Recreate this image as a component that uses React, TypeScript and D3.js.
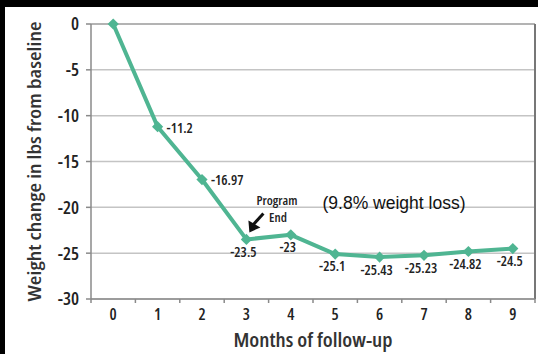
import React from "react";
import * as d3 from "d3";

const months = ["0", "1", "2", "3", "4", "5", "6", "7", "8", "9"];
const weightChange = [0, -11.2, -16.97, -23.5, -23, -25.1, -25.43, -25.23, -24.82, -24.5];
const valueLabels = ["", "-11.2", "-16.97", "-23.5", "-23", "-25.1", "-25.43", "-25.23", "-24.82", "-24.5"];
const labelPlacement = ["none", "right", "right", "below", "below", "below", "below", "below", "below", "below"];
const yTicks = [0, -5, -10, -15, -20, -25, -30];

const W = 538;
const H = 354;
const LEFT = 91;
const RIGHT = 535;
const TOP = 24;
const BOTTOM = 299;
const LINE = "#4fb592";
const FONT = "'Open Sans', 'DejaVu Sans Condensed', sans-serif";
const cond: React.CSSProperties = { fontStretch: "87.5%" };

export default function App() {
  const x = d3.scaleBand<string>().domain(months).range([LEFT, RIGHT]);
  const y = d3.scaleLinear().domain([-30, 0]).range([BOTTOM, TOP]);
  const cx = (i: number) => (x(months[i]) as number) + x.bandwidth() / 2;
  const line = d3
    .line<number>()
    .x((_, i) => cx(i))
    .y((d) => y(d));
  const diamond = d3.symbol().type(d3.symbolDiamond2).size(80)();
  const bandEdges = months.map((m) => x(m) as number).concat([RIGHT]);

  const p3x = cx(3);
  const p3y = y(weightChange[3]);

  return (
    <svg width={W} height={H} style={{ position: "absolute", left: 0, top: 0, background: "#fff" }}>
      <rect x={0} y={0} width={W} height={H} fill="#fff" />
      {yTicks.map((t) => (
        <line key={"g" + t} x1={LEFT} x2={RIGHT} y1={y(t)} y2={y(t)} stroke={t === 0 ? "#9a9a9a" : "#c4c4c4"} strokeWidth={1.5} />
      ))}
      <line x1={RIGHT} x2={RIGHT} y1={TOP} y2={BOTTOM} stroke="#777" strokeWidth={2} />
      <line x1={LEFT} x2={LEFT} y1={TOP} y2={BOTTOM} stroke="#8a8a8a" strokeWidth={1.5} />
      <line x1={LEFT} x2={RIGHT} y1={BOTTOM} y2={BOTTOM} stroke="#8a8a8a" strokeWidth={1.5} />
      {yTicks.map((t) => (
        <g key={"yt" + t}>
          <line x1={LEFT - 5} x2={LEFT} y1={y(t)} y2={y(t)} stroke="#8a8a8a" strokeWidth={1.5} />
          <text x={79} y={y(t)} dy="0.36em" textAnchor="end" fontFamily={FONT} fontWeight={600} fontSize={18} fill="#222" style={cond}>
            {t}
          </text>
        </g>
      ))}
      {bandEdges.map((e, i) => (
        <line key={"xt" + i} x1={e} x2={e} y1={BOTTOM} y2={BOTTOM + 4} stroke="#8a8a8a" strokeWidth={1.5} />
      ))}
      {months.map((m, i) => (
        <text key={"xl" + m} x={cx(i)} y={320} textAnchor="middle" fontFamily={FONT} fontWeight={600} fontSize={16} fill="#222" style={cond}>
          {m}
        </text>
      ))}
      <text
        transform={`translate(41,${(TOP + BOTTOM) / 2}) rotate(-90)`}
        textAnchor="middle"
        fontFamily={FONT}
        fontWeight={600}
        fontSize={18.5}
        fill="#333"
        textLength={280}
        lengthAdjust="spacingAndGlyphs"
        style={cond}
      >
        Weight change in lbs from baseline
      </text>
      <text x={(LEFT + RIGHT) / 2} y={347} textAnchor="middle" fontFamily={FONT} fontWeight={600} fontSize={19} fill="#333" textLength={159} lengthAdjust="spacingAndGlyphs" style={cond}>
        Months of follow-up
      </text>
      <path d={line(weightChange) || ""} fill="none" stroke={LINE} strokeWidth={4} strokeLinejoin="round" />
      {weightChange.map((v, i) => (
        <path key={"m" + i} d={diamond || ""} transform={`translate(${cx(i)},${y(v)})`} fill={LINE} />
      ))}
      {weightChange.map((v, i) => {
        const pl = labelPlacement[i];
        if (pl === "none") return null;
        if (pl === "right") {
          return (
            <text key={"vl" + i} x={cx(i) + 9} y={y(v) + 1} dy="0.35em" textAnchor="start" fontFamily={FONT} fontWeight={600} fontSize={14} fill="#222" style={cond}>
              {valueLabels[i]}
            </text>
          );
        }
        return (
          <text key={"vl" + i} x={cx(i) - 3} y={y(v) + 12.5} dy="0.35em" textAnchor="middle" fontFamily={FONT} fontWeight={600} fontSize={14} fill="#222" style={cond}>
            {valueLabels[i]}
          </text>
        );
      })}
      <text x={277} y={200.5} dy="0.35em" textAnchor="middle" fontFamily={FONT} fontWeight={600} fontSize={13} fill="#222" style={cond}>
        Program
      </text>
      <text x={278} y={217} dy="0.35em" textAnchor="middle" fontFamily={FONT} fontWeight={600} fontSize={13} fill="#222" style={cond}>
        End
      </text>
      <line x1={p3x + 17} y1={p3y - 26} x2={p3x + 7} y2={p3y - 15} stroke="#111" strokeWidth={3} />
      <path d={`M${p3x + 3},${p3y - 7} L${p3x + 2},${p3y - 19} L${p3x + 14},${p3y - 12} Z`} fill="#111" />
      <text x={394} y={209} textAnchor="middle" fontFamily="'Liberation Sans', Arial, sans-serif" fontSize={17.5} fill="#111">
        (9.8% weight loss)
      </text>
      <rect x={0} y={0} width={W} height={7} fill="#000" />
      <rect x={0} y={0} width={5} height={H} fill="#000" />
    </svg>
  );
}
